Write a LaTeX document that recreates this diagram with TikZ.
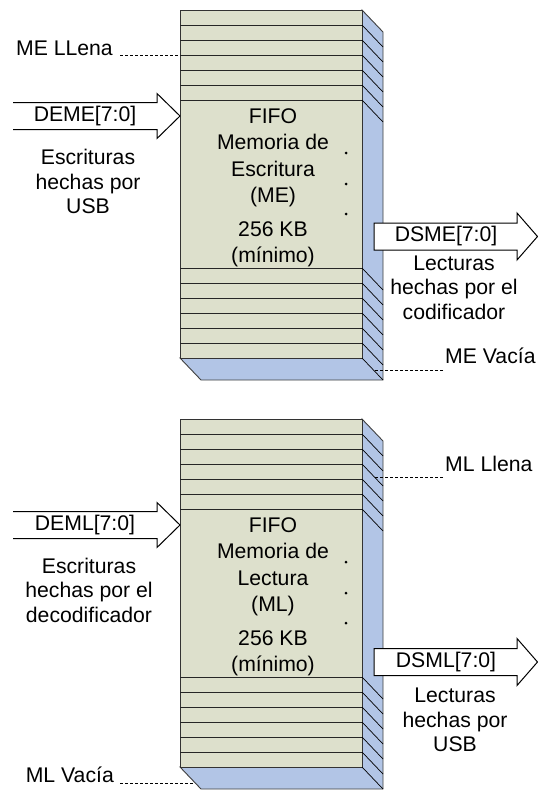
\documentclass[tikz,border=0pt]{standalone}
\usepackage{fontspec}
\setmainfont{Liberation Sans}
\definecolor{frontc}{HTML}{DDE0CC}
\definecolor{sidec}{HTML}{B2C5E6}
\tikzset{
  sideface/.style={fill=sidec, draw=black!75, line width=0.9pt, line join=miter},
  frontface/.style={fill=frontc, draw=black!80, line width=0.9pt},
  rowline/.style={draw=black!85, line width=1pt},
  hatch/.style={draw=black, line width=0.7pt},
  busarrow/.style={fill=white, draw=black, line width=1pt, line join=miter},
  leader/.style={draw=black, line width=0.6pt, dash pattern=on 3pt off 2pt},
  txt/.style={font=\fontsize{21.2}{24.5}\selectfont, inner sep=0pt, align=center},
  boxtxt/.style={font=\fontsize{21.2}{26.5}\selectfont, inner sep=0pt, align=center},
  tag/.style={font=\fontsize{21.2}{25}\selectfont, inner sep=0pt},
}
% One FIFO stack: front face with row lines, shaded side and bottom faces
\newcommand\fifostack{%
  \filldraw[sideface] (362,10) -- (383,32) -- (383,380) -- (201,380) -- (180,358) -- (362,358) -- cycle;
  \filldraw[frontface] (180,10) rectangle (362,358);
  \foreach \yy in {25,40,55,70,85,100,268,283,298,313,328,343} {
    \draw[rowline] (180,\yy) -- (362,\yy);
    \draw[hatch] (362,\yy) -- ++(21,22);
  }
  \draw[hatch] (362,358) -- ++(21,22);
  \foreach \yy in {153,184,214} \fill (346,\yy) circle (1.5);
}
\begin{document}
\begin{tikzpicture}[x=1pt,y=-1pt]
\useasboundingbox (0,0) rectangle (538,790);

% ---------- write memory (ME) ----------
\fifostack
\node[boxtxt] (metitle) at (273,158) {FIFO\\Memoria de\\Escritura\\(ME)};
\node[boxtxt] (mesize) at (273,244.5) {256 KB\\(mínimo)};

% input bus
\filldraw[busarrow] (13,102.5) -- (157,102.5) -- (157,93.5) -- (180,116) -- (157,138.5) -- (157,129.5) -- (13,129.5);
\node[tag] (deme) at (85,116) {DEME[7:0]};
\node[txt] (demedesc) at (88,181.5) {Escrituras\\hechas por\\USB};

% output bus
\filldraw[busarrow] (374,223) -- (517,223) -- (517,213) -- (537.5,236.5) -- (517,260) -- (517,250) -- (374,250) -- cycle;
\node[tag] (dsme) at (446,236.5) {DSME[7:0]};
\node[txt] (dsmedesc) at (454,287.5) {Lecturas\\hechas por el\\codificador};

% status flags
\node[tag, anchor=base east] (mellena) at (113,55) {ME LLena};
\coordinate (mellenaend) at (120,55);
\coordinate (mellenabox) at (180,55);
\draw[leader] (mellenaend) -- (mellenabox);

\node[tag, anchor=base west] (mevacia) at (445,363.5) {ME Vacía};
\coordinate (mevaciaend) at (443,370);
\coordinate (mevaciabox) at (374,370);
\draw[leader] (mevaciaend) -- (mevaciabox);

% ---------- read memory (ML) ----------
\begin{scope}[shift={(0,409)}]
\fifostack
\end{scope}
\node[boxtxt] (mltitle) at (273,567) {FIFO\\Memoria de\\Lectura\\(ML)};
\node[boxtxt] (mlsize) at (273,653.5) {256 KB\\(mínimo)};

% input bus
\filldraw[busarrow] (13,511.5) -- (157,511.5) -- (157,502.5) -- (180,525) -- (157,547.5) -- (157,538.5) -- (13,538.5);
\node[tag] (deml) at (85,525) {DEML[7:0]};
\node[txt] (demldesc) at (89,590) {Escrituras\\hechas por el\\decodificador};

% output bus
\filldraw[busarrow] (374,648.5) -- (517,648.5) -- (517,638.5) -- (537.5,662) -- (517,685.5) -- (517,675.5) -- (374,675.5) -- cycle;
\node[tag] (dsml) at (446,662) {DSML[7:0]};
\node[txt] (dsmldesc) at (455,720) {Lecturas\\hechas por\\USB};

% status flags
\node[tag, anchor=base west] (mllena) at (445,471.5) {ML Llena};
\coordinate (mllenaend) at (443,477);
\coordinate (mllenabox) at (374,477);
\draw[leader] (mllenaend) -- (mllenabox);

\node[tag, anchor=base east] (mlvacia) at (114,782) {ML Vacía};
\coordinate (mlvaciaend) at (120,783);
\coordinate (mlvaciabox) at (195,783);
\draw[leader] (mlvaciaend) -- (mlvaciabox);
\end{tikzpicture}
\end{document}
